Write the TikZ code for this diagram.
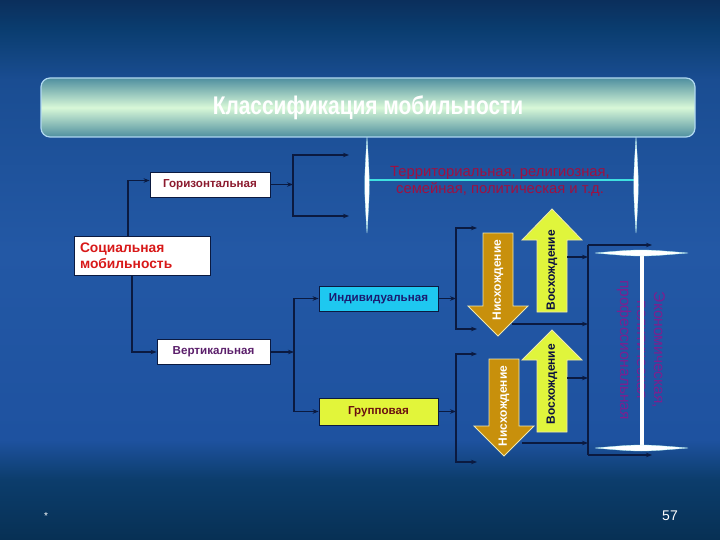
\documentclass[tikz,border=0pt]{standalone}
\usepackage{fontspec}
\setmainfont{Liberation Sans}
\newfontfamily\titlefont{Liberation Sans}[FakeStretch=0.82]
\usetikzlibrary{arrows.meta}

\definecolor{bgA}{HTML}{073054}
\definecolor{bgB}{HTML}{0C3D6C}
\definecolor{bgC}{HTML}{1E52A0}
\definecolor{bgD}{HTML}{2358A5}
\definecolor{bgE}{HTML}{1A4D92}
\definecolor{bgF}{HTML}{0A3D70}
\definecolor{bgG}{HTML}{0B2F5C}
\definecolor{lineCol}{HTML}{0B1A40}
\definecolor{horizRed}{HTML}{8B1A2E}
\definecolor{socialRed}{HTML}{D81818}
\definecolor{vertPurple}{HTML}{5B1F6B}
\definecolor{indivFill}{HTML}{1EC8F0}
\definecolor{indivText}{HTML}{1A1A70}
\definecolor{groupFill}{HTML}{E2F53A}
\definecolor{groupText}{HTML}{6A1010}
\definecolor{downFill}{HTML}{C8900C}
\definecolor{upFill}{HTML}{E0F53C}
\definecolor{arrowEdge}{HTML}{F0E8B0}
\definecolor{upText}{HTML}{0A1040}
\definecolor{terrRed}{HTML}{A01040}
\definecolor{econPurple}{HTML}{7B2090}
\definecolor{cyanLine}{HTML}{3FE0E0}
\definecolor{barTeal}{HTML}{4F8F9F}
\definecolor{barPale}{HTML}{D8F8D8}
\definecolor{barEdge}{HTML}{B0D8F0}

\pgfdeclareverticalshading{bgShade}{100bp}{color(0bp)=(bgA); color(25bp)=(bgA);
  color(30.6bp)=(bgB); color(34.3bp)=(bgC); color(51.9bp)=(bgD);
  color(67.6bp)=(bgE); color(72.2bp)=(bgF); color(75bp)=(bgG); color(100bp)=(bgG)}

\begin{document}
\begin{tikzpicture}
[x=1pt,y=-1pt,
  box/.style={draw=lineCol,line width=0.8pt,inner sep=2pt,
    font=\bfseries\fontsize{11.6}{13}\selectfont},
  link/.style={draw=lineCol,line width=1.1pt,-{Stealth[length=6pt,width=4.5pt]}},
  plain/.style={draw=lineCol,line width=1.1pt},
  bigArrow/.style={draw=arrowEdge,line width=0.8pt},
  arrowText/.style={rotate=90,font=\bfseries\fontsize{12}{14}\selectfont},
  lens/.style={fill=white,draw=cyanLine!40!white,line width=0.3pt}]
\useasboundingbox (0,0) rectangle (720,540);
\shade[shading=bgShade] (0,0) rectangle (720,540);

%% title bar
\node[draw=barEdge,line width=1.2pt,rounded corners=9pt,
  top color=barTeal,bottom color=barTeal,middle color=barPale,
  minimum width=654pt,minimum height=59pt,text=white,
  font=\titlefont\bfseries\fontsize{25.5}{27}\selectfont] (title) at (368,107.5)
  {Классификация мобильности};

%% boxes
\node[box,fill=white,text=horizRed,minimum width=120pt,minimum height=25pt]
  (horiz) at (210,184.5) {Горизонтальная};
\node[box,fill=white,text=socialRed,minimum width=136pt,minimum height=39pt,
  text width=124pt,align=left,font=\bfseries\fontsize{13.8}{16}\selectfont]
  (social) at (142,255.5) {Социальная\\мобильность};
\node[box,fill=white,text=vertPurple,minimum width=113pt,minimum height=25pt]
  (vert) at (213.5,352) {Вертикальная};
\node[box,fill=indivFill,text=indivText,minimum width=119pt,minimum height=25pt]
  (indiv) at (378.5,298.5) {Индивидуальная};
\node[box,fill=groupFill,text=groupText,minimum width=119pt,minimum height=27pt]
  (group) at (378.5,411.5) {Групповая};

%% bracket points
\coordinate (hBr) at (293,0);
\coordinate (hTop) at (349,155);
\coordinate (hBot) at (349,216);
\coordinate (vBr) at (294,0);
\coordinate (iBr) at (456,0);
\coordinate (iTop) at (477,228);
\coordinate (iBot) at (477,329);
\coordinate (gTop) at (477,354);
\coordinate (gBot) at (477,462);
\coordinate (rTop) at (588,245);
\coordinate (rBot) at (588,455);
\coordinate (rTopEnd) at (652,245);
\coordinate (rBotEnd) at (652,455);

%% connectors
\draw[link] ([xshift=-14pt]social.north) |- ([yshift=4pt]horiz.west);
\draw[link] ([xshift=-10pt]social.south) |- (vert.west);
\draw[link] (horiz.east) -- (horiz.east -| hBr);
\draw[link] (horiz.east -| hBr) |- (hTop);
\draw[link] (horiz.east -| hBr) |- (hBot);
\draw[link] (vert.east) -- (vert.east -| vBr);
\draw[link] (vert.east -| vBr) |- (indiv.west);
\draw[link] (vert.east -| vBr) |- (group.west);
\draw[link] (indiv.east) -- (indiv.east -| iBr);
\draw[link] (indiv.east -| iBr) |- (iTop);
\draw[link] (indiv.east -| iBr) |- (iBot);
\draw[link] (group.east) -- (group.east -| iBr);
\draw[link] (group.east -| iBr) |- (gTop);
\draw[link] (group.east -| iBr) |- (gBot);

%% big arrows
\foreach \x/\ya/\yh/\yb/\col in {498/233/306/336/downFill, 552/312/240/209/upFill,
  504/359/426/456/downFill, 552/432/360/330/upFill}
{
  \filldraw[bigArrow,fill=\col] (\x-15,\ya) -- (\x+15,\ya) -- (\x+15,\yh)
    -- (\x+30,\yh) -- (\x,\yb) -- (\x-30,\yh) -- (\x-15,\yh) -- cycle;
}
\node[arrowText,text=white] (down1) at (498,280) {Нисхождение};
\node[arrowText,text=upText] (up1) at (552,270) {Восхождение};
\node[arrowText,text=white] (down2) at (504,406) {Нисхождение};
\node[arrowText,text=upText] (up2) at (552,384) {Восхождение};

\coordinate (up1e) at (567,257);
\coordinate (down1e) at (512,324);
\coordinate (up2e) at (567,378);
\coordinate (down2e) at (522,443);
\foreach \s in {up1e, down1e, up2e, down2e}
{
  \draw[link] (\s) -- (\s -| rTop);
}
\draw[plain] (rTop) -- (rBot);
\draw[link] (rTop) -- (rTopEnd);
\draw[link] (rBot) -- (rBotEnd);

%% kinds of horizontal mobility
\node[text=terrRed,align=center,font=\fontsize{14.8}{17}\selectfont]
  (terr) at (500,181) {Территориальная, религиозная,\\семейная, политическая и т.д.};
\coordinate (lBar) at (367,180);
\coordinate (rBar) at (636,180);
\draw[cyanLine,line width=2.5pt] (lBar) -- (rBar);
\foreach \x in {367, 636}
{
  \fill[lens] (\x,137) .. controls (\x+3,185) .. (\x,233)
    .. controls (\x-3,185) .. (\x,137);
}

%% kinds of vertical mobility
\node[rotate=-90,text=econPurple,align=center,font=\fontsize{15.5}{17}\selectfont]
  (econ) at (641,350) {Экономическая,\\политическая\\профессиональная};
\draw[white,line width=3.5pt] (642,253) -- (642,448);
\foreach \y in {253, 448}
{
  \fill[lens] (595,\y) .. controls (641,\y-4) .. (688,\y)
    .. controls (641,\y+4) .. (595,\y);
}

%% footer
\node[text=white,font=\fontsize{10}{12}\selectfont] (star) at (46,516) {*};
\node[text=white,font=\fontsize{14}{16}\selectfont] (page) at (670,516) {57};
\end{tikzpicture}
\end{document}
